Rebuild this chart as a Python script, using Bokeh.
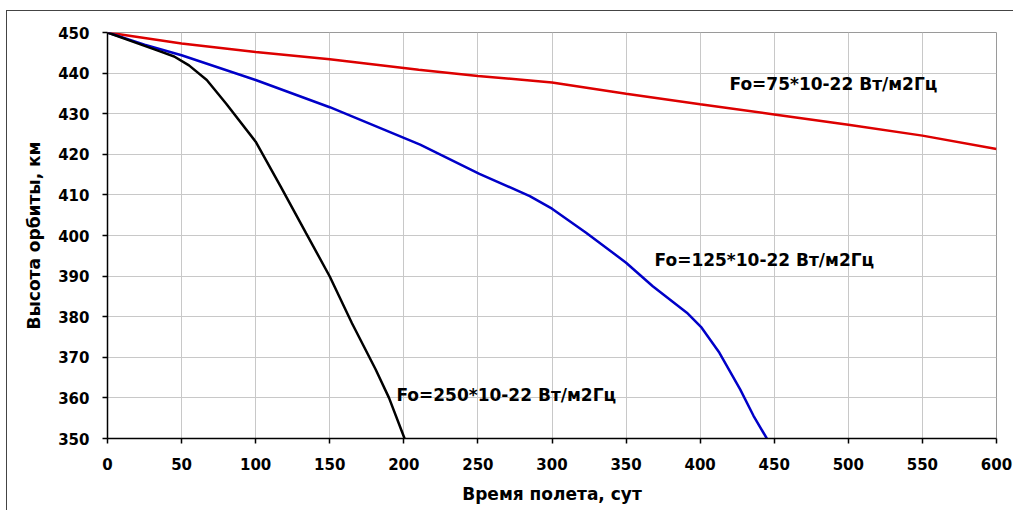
from bokeh.plotting import figure
from bokeh.models import Range1d, FixedTicker
from bokeh.core.properties import value
from bokeh.embed import file_html
from bokeh.resources import INLINE

# Data
red_days = [0, 50, 100, 150, 210, 250, 300, 350, 400, 450, 500, 550, 600]
red_alt = [450, 447.3, 445.2, 443.4, 440.8, 439.3, 437.7, 434.9, 432.3, 429.8, 427.3, 424.6, 421.3]

blue_days = [0, 25, 50, 100, 150, 211, 251, 285, 300, 323, 350, 368, 391, 401, 413, 427, 436, 445]
blue_alt = [450, 447.0, 444.4, 438.3, 431.6, 422.4, 415.2, 409.7, 406.6, 400.7, 393.3, 387.5, 381.0, 377.3, 371.1, 362.1, 355.6, 350]

black_days = [0, 17.5, 35, 45, 55, 67, 80, 100, 117, 134, 150, 165, 181, 190, 200.5]
black_alt = [450, 447.7, 445.4, 444.1, 441.9, 438.3, 432.5, 423.1, 412.0, 400.6, 389.9, 378.4, 367.0, 360.0, 350]

labels = ["Fo=75*10-22 Вт/м2Гц", "Fo=125*10-22 Вт/м2Гц", "Fo=250*10-22 Вт/м2Гц"]
label_x = [419.8, 369.2, 195.0]
label_y = [437.2, 394.0, 360.6]

x_ticks = list(range(0, 601, 50))
y_ticks = list(range(350, 451, 10))

FONT = "DejaVu Sans"

p = figure(width=1007, height=500, output_backend="svg", toolbar_location=None,
           x_range=Range1d(0, 600), y_range=Range1d(350, 450),
           min_border_left=100, min_border_right=18, min_border_top=21, min_border_bottom=73)
p.styles = {"margin-left": "6px", "margin-top": "10px",
            "border-left": "1.5px solid #444", "border-top": "1.5px solid #444"}

p.background_fill_color = "white"
p.border_fill_color = "white"
p.outline_line_color = "#9a9a9a"
p.outline_line_width = 1

for ax in (p.xaxis[0], p.yaxis[0]):
    ax.axis_line_color = "black"
    ax.axis_line_width = 1.5
    ax.major_tick_line_color = "black"
    ax.major_tick_line_width = 1.5
    ax.major_tick_in = 0
    ax.major_tick_out = 5
    ax.minor_tick_line_color = None
    ax.major_label_text_font = FONT
    ax.major_label_text_font_style = "bold"
    ax.major_label_text_font_size = "15px"
    ax.major_label_text_color = "black"
    ax.axis_label_text_font = FONT
    ax.axis_label_text_font_style = "bold"
    ax.axis_label_text_font_size = "17px"
    ax.axis_label_text_color = "black"

p.xaxis[0].ticker = FixedTicker(ticks=x_ticks)
p.yaxis[0].ticker = FixedTicker(ticks=y_ticks)
p.xaxis[0].major_label_standoff = 14
p.yaxis[0].major_label_standoff = 13
p.xaxis.axis_label = "Время полета, сут"
p.yaxis.axis_label = "Высота орбиты, км"
p.xaxis[0].axis_label_standoff = 11
p.yaxis[0].axis_label_standoff = 11

p.xgrid.grid_line_color = "#c8c8c8"
p.ygrid.grid_line_color = "#c8c8c8"
p.xgrid.grid_line_width = 1
p.ygrid.grid_line_width = 1

p.line(red_days, red_alt, line_color="#dd0000", line_width=2.5)
p.line(blue_days, blue_alt, line_color="#0000c8", line_width=2.5)
p.line(black_days, black_alt, line_color="black", line_width=2.5)

p.text(x=label_x, y=label_y, text=labels, text_font=value(FONT), text_font_style="bold",
       text_font_size="17px", text_baseline="middle", text_align="left", text_color="black")

open("out.html", "w").write(file_html(p, INLINE))
